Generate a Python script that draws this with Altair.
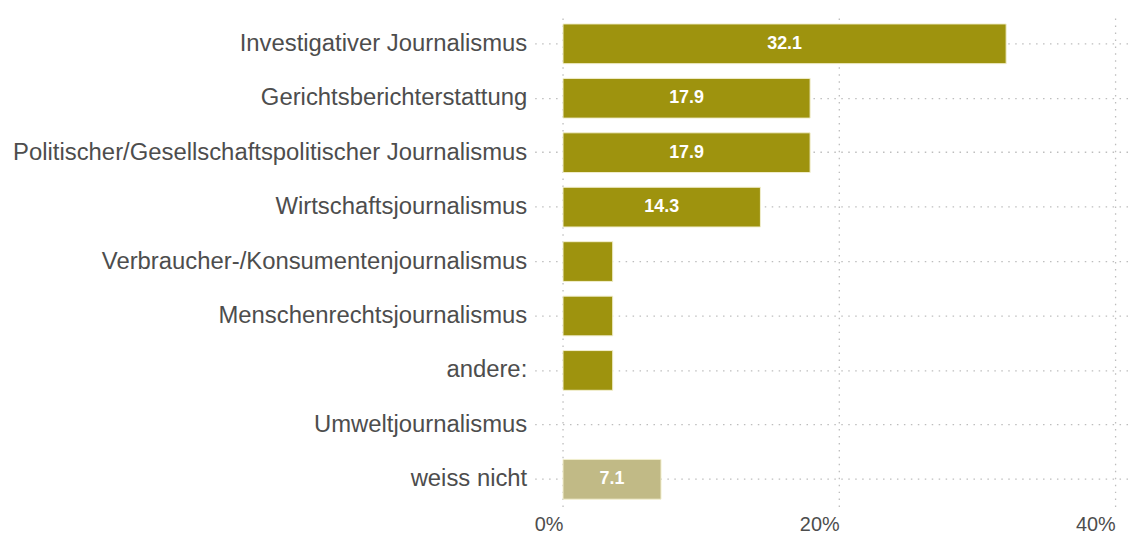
import altair as alt
import pandas as pd

categories = [
    "Investigativer Journalismus",
    "Gerichtsberichterstattung",
    "Politischer/Gesellschaftspolitischer Journalismus",
    "Wirtschaftsjournalismus",
    "Verbraucher-/Konsumentenjournalismus",
    "Menschenrechtsjournalismus",
    "andere:",
    "Umweltjournalismus",
    "weiss nicht",
]
values = [32.1, 17.9, 17.9, 14.3, 3.6, 3.6, 3.6, 0.0, 7.1]
groups = ["antwort"] * 8 + ["weissnicht"]
x_ticks = [0, 20, 40]

df = pd.DataFrame({"cat": categories, "val": values, "grp": groups})
df["mid"] = df["val"] / 2
df["lab"] = df["val"].map(lambda v: f"{v:.1f}" if v > 5 else "")

FONT = "Liberation Sans, Arial, Helvetica, sans-serif"

y_enc = alt.Y(
    "cat:N",
    sort=categories,
    title=None,
    scale=alt.Scale(domain=categories, paddingInner=0.27, paddingOuter=0.135),
    axis=alt.Axis(
        labelFontSize=24,
        labelColor="#4d4d4d",
        labelFont=FONT,
        labelPadding=8,
        labelLimit=800,
        ticks=False,
        domain=False,
        grid=True,
        bandPosition=0.5,
        gridColor="#bdbdbd",
        gridDash=[1.5, 5.5],
        gridWidth=1.3,
    ),
)

bars = alt.Chart(df).transform_filter("datum.val > 0").mark_bar(
    stroke="#f2efcf", strokeWidth=1
).encode(
    x=alt.X(
        "val:Q",
        title=None,
        scale=alt.Scale(domain=[-2.05, 41.0], nice=False, zero=False),
        axis=alt.Axis(
            values=x_ticks,
            labelExpr="datum.value + '%'",
            labelFontSize=20,
            labelColor="#4d4d4d",
            labelFont=FONT,
            labelAlign="right",
            labelPadding=8,
            ticks=False,
            domain=False,
            grid=True,
            gridColor="#bdbdbd",
            gridDash=[1.5, 5.5],
            gridWidth=1.3,
        ),
    ),
    x2=alt.datum(0),
    y=y_enc,
    color=alt.Color(
        "grp:N",
        scale=alt.Scale(domain=["antwort", "weissnicht"], range=["#9e930e", "#c1ba86"]),
        legend=None,
    ),
)

text = alt.Chart(df).mark_text(
    color="white", fontWeight="bold", fontSize=18, font=FONT, baseline="middle", align="center"
).encode(
    x=alt.X("mid:Q"),
    y=alt.Y("cat:N", sort=categories),
    text="lab:N",
)

chart = (
    alt.layer(bars, text)
    .properties(
        width=598,
        height=493,
        background="white",
        padding={"left": 4, "top": 7, "right": 0, "bottom": 0},
    )
    .configure_view(strokeWidth=0, stroke=None)
)

chart.save("out.html", embed_options={"renderer": "svg", "actions": False})
